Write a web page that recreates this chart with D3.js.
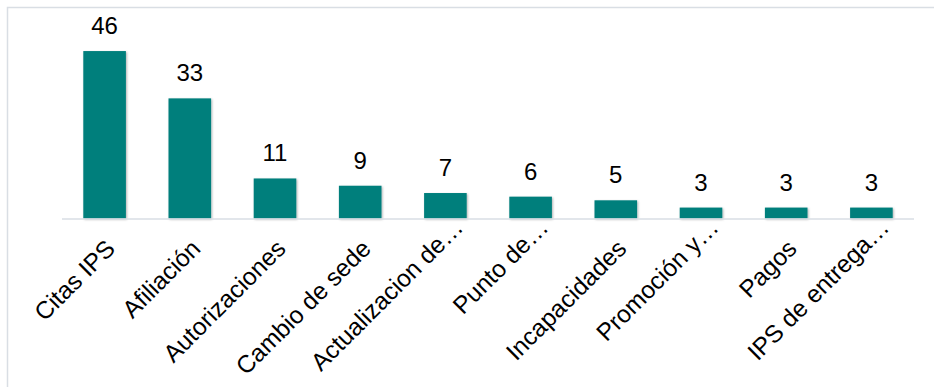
<!DOCTYPE html>
<html>
<head>
<meta charset="utf-8">
<script src="https://cdn.jsdelivr.net/npm/d3@7"></script>
<style>
  html, body { margin: 0; padding: 0; background: #fff; }
  svg { display: block; }
  text { font-family: "Liberation Sans", Arial, sans-serif; fill: #000; }
</style>
</head>
<body>
<svg id="chart" width="934" height="387"></svg>
<script>
const categories = [
  "Citas IPS", "Afiliación", "Autorizaciones", "Cambio de sede",
  "Actualizacion de…", "Punto de…", "Incapacidades", "Promoción y…",
  "Pagos", "IPS de entrega…"
];
const values = [46, 33, 11, 9, 7, 6, 5, 3, 3, 3];

const svg = d3.select("#chart");

// chart frame
svg.append("rect")
  .attr("x", 7.5).attr("y", 7.5)
  .attr("width", 1000).attr("height", 1000)
  .attr("fill", "none")
  .attr("stroke", "#d9dee4")
  .attr("stroke-width", 1.5);

const defs = svg.append("defs");
const f = defs.append("filter").attr("id", "shadow")
  .attr("x", "-20%").attr("y", "-20%").attr("width", "150%").attr("height", "150%");
f.append("feDropShadow")
  .attr("dx", 1).attr("dy", 1).attr("stdDeviation", 1.2)
  .attr("flood-color", "#000").attr("flood-opacity", 0.3);

const x = d3.scaleBand()
  .domain(categories)
  .range([62, 914])
  .paddingInner(0.5)
  .paddingOuter(0.25);

const y = d3.scaleLinear()
  .domain([0, 50])
  .range([218.5, 36.5]);

// bars
svg.append("g").selectAll("rect")
  .data(values)
  .join("rect")
  .attr("x", (d, i) => x(categories[i]))
  .attr("y", d => y(d))
  .attr("width", x.bandwidth())
  .attr("height", d => y(0) - y(d))
  .attr("fill", "#007f7c")
  .attr("filter", "url(#shadow)");

// category axis line
svg.append("line")
  .attr("x1", 62).attr("x2", 914)
  .attr("y1", y(0) + 0.5).attr("y2", y(0) + 0.5)
  .attr("stroke", "#d9dee4")
  .attr("stroke-width", 1.5);

// value labels
svg.append("g").selectAll("text")
  .data(values)
  .join("text")
  .attr("x", (d, i) => x(categories[i]) + x.bandwidth() / 2)
  .attr("y", d => y(d) - 17)
  .attr("text-anchor", "middle")
  .attr("font-size", 24)
  .text(d => d);

// rotated category labels; shortened labels sit in a wider label box
const shortened = d => d.endsWith("…");
svg.append("g").selectAll("text")
  .data(categories)
  .join("text")
  .attr("transform", d => `translate(${x(d) + x.bandwidth() / 2},238) rotate(-45)`)
  .attr("x", d => shortened(d) ? 20 : 0)
  .attr("y", d => shortened(d) ? -15 : -5)
  .attr("text-anchor", "end")
  .attr("dy", "0.9em")
  .attr("font-size", 24.5)
  .text(d => d);
</script>
</body>
</html>
